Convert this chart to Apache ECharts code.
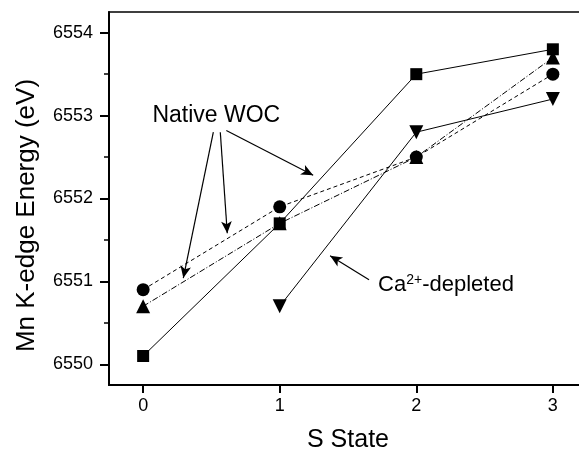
<!DOCTYPE html>
<html>
<head>
<meta charset="utf-8">
<script src="https://cdn.jsdelivr.net/npm/echarts@6/dist/echarts.min.js"></script>
<style>
  html, body { margin: 0; padding: 0; background: #fff; }
  #chart { width: 579px; height: 453px; }
</style>
</head>
<body>
<div id="chart"></div>
<script>
// S states and Mn K-edge energies
const sStates = [0, 1, 2, 3];
const squareVals = [6550.1, 6551.7, 6553.5, 6553.8];
const circleVals = [6550.9, 6551.9, 6552.5, 6553.5];
const triUpVals = [6550.7, 6551.7, 6552.5, 6553.7];
const caStates = [1, 2, 3];
const triDownVals = [6550.7, 6552.8, 6553.2];

// tick labels
const xTicks = [0, 1, 2, 3];
const yTicks = [6550, 6551, 6552, 6553, 6554];
const yMinorTicks = [6550.5, 6551.5, 6552.5, 6553.5];

// annotation arrows [from, to] in data coords
const nativeArrows = [
  [[0.514, 6552.80], [0.294, 6551.04]],
  [[0.565, 6552.80], [0.616, 6551.58]],
  [[0.609, 6552.82], [1.245, 6552.28]]
];
const caArrow = [[1.654, 6551.02], [1.369, 6551.31]];

const pairs = (xs, ys) => xs.map((x, i) => [x, ys[i]]);
const font = "'Liberation Sans', Arial, sans-serif";

function arrowLine(a) {
  return [{ coord: a[0], symbol: "none" }, { coord: a[1], symbol: "arrow" }];
}

let chart = echarts.init(document.getElementById("chart"));
chart.setOption({
  animation: false,
  grid: {
    left: 109,
    top: 12,
    right: -8,
    bottom: 68,
    containLabel: false,
    outerBoundsMode: "none",
    show: true,
    borderColor: "#000",
    borderWidth: 1.5
  },
  xAxis: {
    type: "value",
    min: -0.25,
    max: 3.25,
    interval: 0.25,
    name: "S State",
    nameLocation: "middle",
    nameGap: 43,
    nameTextStyle: { color: "#000", fontSize: 25, fontFamily: font },
    axisLine: { onZero: false, lineStyle: { color: "#000", width: 2 } },
    axisTick: { inside: false, length: 8, customValues: xTicks, lineStyle: { width: 2 } },
    axisLabel: {
      color: "#000",
      fontSize: 18,
      fontFamily: font,
      margin: 12,
      customValues: xTicks,
      formatter: v => String(v)
    },
    splitLine: { show: false }
  },
  yAxis: [
    {
      type: "value",
      min: 6549.75,
      max: 6554.25,
      interval: 0.25,
      name: "Mn K-edge Energy (eV)",
      nameLocation: "middle",
      nameGap: 69,
      nameTextStyle: { color: "#000", fontSize: 26, fontFamily: font, padding: [0, 34, 0, 0] },
      axisLine: { onZero: false, lineStyle: { color: "#000", width: 2 } },
      axisTick: { inside: false, length: 9, customValues: yTicks, lineStyle: { width: 2 } },
      axisLabel: {
        color: "#000",
        fontSize: 18,
        fontFamily: font,
        margin: 16,
        customValues: yTicks,
        formatter: v => String(v)
      },
      splitLine: { show: false }
    },
    {
      type: "value",
      position: "left",
      min: 6549.75,
      max: 6554.25,
      interval: 0.25,
      axisLine: { show: false, onZero: false },
      axisTick: { inside: false, length: 5, customValues: yMinorTicks, lineStyle: { color: "#000", width: 1.5 } },
      axisLabel: { show: false },
      splitLine: { show: false }
    }
  ],
  series: [
    {
      type: "line",
      data: pairs(sStates, squareVals),
      symbol: "rect",
      symbolSize: 12,
      itemStyle: { color: "#000" },
      lineStyle: { color: "#000", width: 1 },
      z: 3
    },
    {
      type: "line",
      data: pairs(sStates, circleVals),
      symbol: "circle",
      symbolSize: 13,
      itemStyle: { color: "#000" },
      lineStyle: { color: "#000", width: 1, type: [4, 3] },
      z: 3
    },
    {
      type: "line",
      data: pairs(sStates, triUpVals),
      symbol: "triangle",
      symbolSize: 14,
      itemStyle: { color: "#000" },
      lineStyle: { color: "#000", width: 1, type: [6, 2, 1, 2] },
      z: 3
    },
    {
      type: "line",
      data: pairs(caStates, triDownVals),
      symbol: "triangle",
      symbolRotate: 180,
      symbolSize: 14,
      itemStyle: { color: "#000" },
      lineStyle: { color: "#000", width: 1 },
      z: 3,
      markLine: {
        silent: true,
        symbolSize: [8, 12],
        lineStyle: { color: "#000", width: 1.2, type: "solid" },
        label: { show: false },
        data: nativeArrows.map(arrowLine).concat([arrowLine(caArrow)])
      },
      markPoint: {
        silent: true,
        symbol: "circle",
        symbolSize: 0,
        data: [
          {
            coord: [0.068, 6553.0],
            label: {
              show: true,
              position: "right",
              distance: 0,
              formatter: "Native WOC",
              color: "#000",
              fontSize: 23,
              fontFamily: font
            }
          },
          {
            coord: [1.72, 6550.96],
            label: {
              show: true,
              position: "right",
              distance: 0,
              formatter: "Ca{sup|2+}-depleted",
              color: "#000",
              fontSize: 22,
              fontFamily: font,
              rich: {
                sup: { fontSize: 14, verticalAlign: "top", padding: [0, 0, 10, 0], fontFamily: font, color: "#000" }
              }
            }
          }
        ]
      }
    }
  ]
});
</script>
</body>
</html>
